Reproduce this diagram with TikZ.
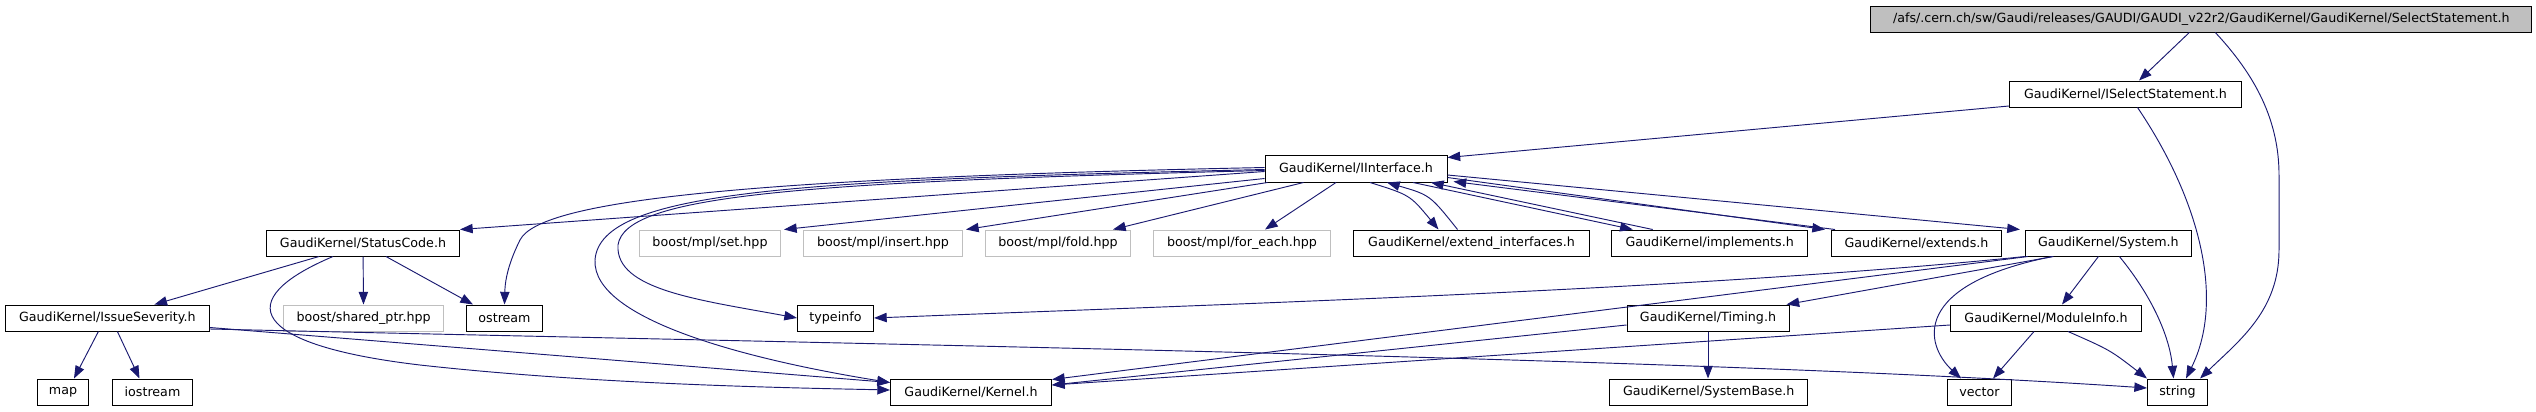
\documentclass[tikz,border=0pt]{standalone}
\usepackage{fontspec}
\setmainfont{DejaVu Sans}
\usepackage{tikz}
\usetikzlibrary{calc,arrows.meta}
\usepackage{xcolor}
\definecolor{edgeBlue}{RGB}{25,25,112}
\definecolor{sysGray}{RGB}{191,191,191}

\begin{document}
\begin{tikzpicture}[%
    x=0.75pt, y=-0.75pt,
    fileBox/.style={
      rectangle,
      draw=black,
      line width=0.75pt,
      fill=white,
      inner sep=0pt,
      minimum height=19.5pt,
      font=\fontsize{9.5}{11}\selectfont
    },
    headerBox/.style={
      fileBox,
      fill=sysGray
    },
    extBox/.style={
      fileBox,
      draw=sysGray
    },
    wd/.style={minimum width=#1*0.75pt},
    dep/.style={
      draw=edgeBlue,
      line width=0.7pt,
      -{Triangle[length=9.5pt,width=7pt]}
    }
  ]
    \useasboundingbox (0,0) rectangle (2536,411);

    % Files
    \draw (2201.3,19) node[headerBox, wd=661] (A) {/afs/.cern.ch/sw/Gaudi/releases/GAUDI/GAUDI\_v22r2/GaudiKernel/GaudiKernel/SelectStatement.h}
          (2125.5,94) node[fileBox, wd=232] (B) {GaudiKernel/ISelectStatement.h}
          (1356,168.5) node[fileBox, wd=182, minimum height=20.25pt] (C) {GaudiKernel/IInterface.h}
          (363,243)   node[fileBox, wd=193] (D) {GaudiKernel/StatusCode.h}
          (710,243)   node[extBox, wd=141]  (E) {boost/mpl/set.hpp}
          (883,243)   node[extBox, wd=159]  (F) {boost/mpl/insert.hpp}
          (1058,243)  node[extBox, wd=145]  (G) {boost/mpl/fold.hpp}
          (1242,243)  node[extBox, wd=177]  (H) {boost/mpl/for\_each.hpp}
          (1471.5,243) node[fileBox, wd=236] (I) {GaudiKernel/extend\_interfaces.h}
          (1709.7,243) node[fileBox, wd=196] (J) {GaudiKernel/implements.h}
          (1916.5,243) node[fileBox, wd=170] (K) {GaudiKernel/extends.h}
          (2108.4,243) node[fileBox, wd=166] (L) {GaudiKernel/System.h}
          (107.4,318) node[fileBox, wd=204] (M) {GaudiKernel/IssueSeverity.h}
          (363.6,318) node[extBox, wd=160]  (N) {boost/shared\_ptr.hpp}
          (504.5,318) node[fileBox, wd=76]  (O) {ostream}
          (835.5,318) node[fileBox, wd=76]  (P) {typeinfo}
          (1708,318)  node[fileBox, wd=162] (Q) {GaudiKernel/Timing.h}
          (2046,318)  node[fileBox, wd=191] (R) {GaudiKernel/ModuleInfo.h}
          (63,392)    node[fileBox, wd=51]  (S) {map}
          (152.5,392) node[fileBox, wd=80]  (T) {iostream}
          (971,392)   node[fileBox, wd=161] (U) {GaudiKernel/Kernel.h}
          (1708.7,392) node[fileBox, wd=198] (V) {GaudiKernel/SystemBase.h}
          (1979.5,392) node[fileBox, wd=64] (W) {vector}
          (2177.5,392) node[fileBox, wd=60] (X) {string};

    % SelectStatement.h and ISelectStatement.h
    \draw[dep] ($(A.south)+(-12,0)$) -- ($(B.north)+(13.5,0)$);
    \draw[dep] ($(A.south)+(14,0)$) .. controls (2255,75) and (2279,120) .. (2279,175) -- (2279,250) .. controls (2279,310) and (2240,340) .. ($(X.north)+(22.5,0)$);
    \draw[dep] ($(B.south west)+(0,-1.5)$) -- ($(C.north east)+(0,3)$);
    \draw[dep] ($(B.south)+(12,0)$) .. controls (2200,200) and (2225,300) .. ($(X.north)+(8.5,0)$);

    % IInterface.h
    \draw[dep] ($(C.west)+(0,3)$) -- (D.north east);
    \draw[dep] ($(C.west)+(0,-1)$) .. controls (750,178) and (540,200) .. (520,240) .. controls (506,268) and (505,285) .. (O.north);
    \draw[dep] ($(C.west)+(0,1)$) .. controls (800,180) and (600,190) .. (595,260) .. controls (592,320) and (750,360) .. ($(U.north west)+(0,4)$);
    \draw[dep] ($(C.west)+(0,2)$) .. controls (800,182) and (625,195) .. (618,245) .. controls (615,290) and (700,300) .. (P.west);
    \draw[dep] ($(C.south west)+(0,-4)$) -- ($(E.north east)+(3,0)$);
    \draw[dep] ($(C.south west)+(3,0)$) -- ($(F.north east)+(3,0)$);
    \draw[dep] ($(C.south west)+(39,0)$) -- ($(G.north east)+(-18,0)$);
    \draw[dep] ($(C.south)+(-20,0)$) -- ($(H.north)+(23,0)$);
    \draw[dep] ($(C.south)+(14,0)$) .. controls (1410,195) .. ($(I.north)+(-33,0)$);
    \draw[dep] ($(I.north)+(-14,0)$) .. controls (1430,195) .. ($(C.south)+(31,0)$);
    \draw[dep] ($(C.south)+(57,0)$) -- ($(J.north)+(-77,0)$);
    \draw[dep] ($(J.north)+(-57,0)$) -- ($(C.south)+(75,0)$);
    \draw[dep] ($(C.south east)+(0,-5)$) -- ($(K.north west)+(-6,0)$);
    \draw[dep] ($(K.north west)+(4,0)$) -- ($(C.south east)+(6,-1)$);
    \draw[dep] ($(C.east)+(0,6.5)$) -- ($(L.north west)+(-5,0)$);

    % StatusCode.h and IssueSeverity.h
    \draw[dep] ($(D.south)+(-44,0)$) -- ($(M.north)+(47,0)$);
    \draw[dep] (D) -- (N);
    \draw[dep] ($(D.south)+(23,0)$) -- ($(O.north west)+(7,0)$);
    \draw[dep] ($(D.south)+(-30,0)$) .. controls (230,300) and (250,345) .. (420,365) .. controls (600,385) and (800,388) .. ($(U.west)+(0,-2)$);
    \draw[dep] ($(M.south)+(-9,0)$) -- ($(S.north)+(11,0)$);
    \draw[dep] ($(M.south)+(10,0)$) -- ($(T.north)+(-13,0)$);
    \draw[dep] ($(M.east)+(0,9.5)$) -- ($(U.north west)+(0,4)$);
    \draw[dep] ($(M.east)+(0,11)$) .. controls (900,345) and (1700,358) .. ($(X.west)+(0,-4)$);

    % System.h, Timing.h and ModuleInfo.h
    \draw[dep] (L.south west) .. controls (1700,290) and (1200,305) .. (P.east);
    \draw[dep] ($(L.south west)+(3,0)$) -- ($(U.north east)+(0,1)$);
    \draw[dep] ($(L.south)+(-55,0)$) -- ($(Q.north east)+(-3,0)$);
    \draw[dep] ($(L.south)+(-56,0)$) .. controls (1910,285) and (1925,345) .. ($(W.north)+(-18.5,0)$);
    \draw[dep] ($(L.south)+(-10,0)$) -- ($(R.north)+(16,0)$);
    \draw[dep] ($(L.south)+(11,0)$) .. controls (2155,300) and (2170,340) .. ($(X.north)+(-4,0)$);
    \draw[dep] ($(Q.west)+(0,7)$) -- ($(U.east)+(0,-7)$);
    \draw[dep] (Q.south) -- (Q.south |- V.north);
    \draw[dep] ($(R.west)+(0,7)$) -- ($(U.east)+(0,-7)$);
    \draw[dep] ($(R.south)+(-12,0)$) -- ($(W.north)+(13.5,0)$);
    \draw[dep] ($(R.south)+(22,0)$) .. controls (2110,350) .. (X.north west);
\end{tikzpicture}
\end{document}
